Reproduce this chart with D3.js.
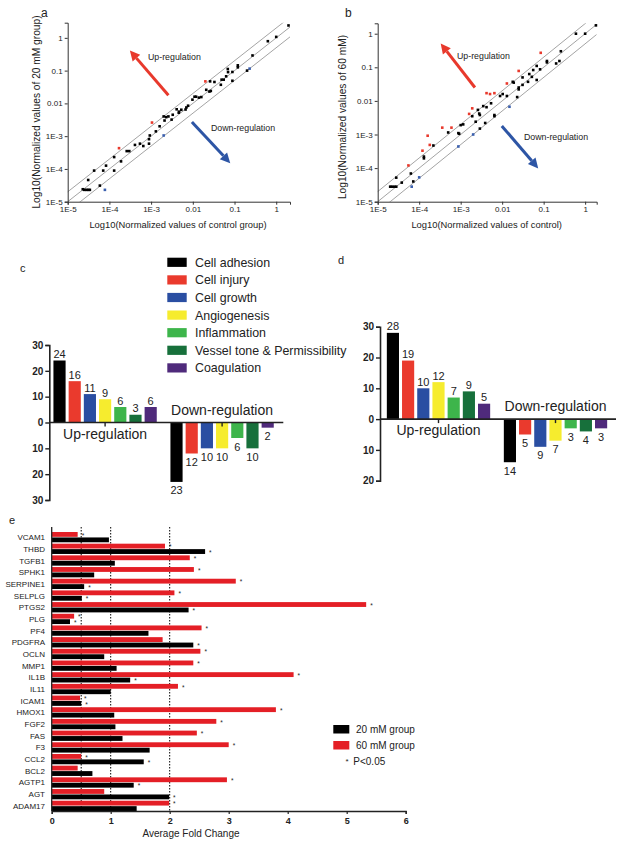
<!DOCTYPE html>
<html><head><meta charset="utf-8">
<script src="https://cdn.jsdelivr.net/npm/d3@7"></script>
<style>body{margin:0;background:#fff}svg{display:block;font-family:"Liberation Sans",Arial,sans-serif}</style>
</head><body><script>
// ---------- DATA ----------
const logTicks = [1e-5, 1e-4, 1e-3, 0.01, 0.1, 1];
const logTickLabels = ["1E-5", "1E-4", "1E-3", "0.01", "0.1", "1"];
const foldLines = [2, 1, 0.5];

// panel a: control vs 20 mM (reg: 0 none, 1 up, 2 down)
const aCtrl = [1.97,0.63,1.0,0.27,0.23,0.2,0.12,0.12,0.089,0.089,0.069,0.07,0.063,0.055,0.049,0.047,0.033,0.026,0.020,0.021,0.025,0.027,0.016,0.014,0.012,0.011,0.0098,0.0077,0.0070,0.0067,0.0053,0.0046,0.0041,0.0047,0.0033,0.0031,0.0026,0.0023,0.002,0.0021,0.0020,0.0016,0.0013,0.00105,0.00093,0.00089,0.00089,0.00065,0.00054,0.00041,0.0003,0.00026,0.00017,0.00019,0.00013,0.00013,0.000083,0.000071,0.000078,0.000059,0.000043,0.000031,0.000023,0.000025,0.000028,0.000031,0.000034];
const aTreat = [2.39,0.79,1.07,0.29,0.115,0.1,0.145,0.126,0.049,0.091,0.112,0.09,0.067,0.053,0.053,0.037,0.045,0.047,0.047,0.026,0.023,0.024,0.0156,0.015,0.016,0.016,0.013,0.0085,0.0075,0.0065,0.0064,0.0052,0.0066,0.0056,0.0045,0.0032,0.0040,0.0038,0.004,0.003,0.00105,0.0020,0.0014,0.0026,0.00105,0.00081,0.00059,0.0005,0.00059,0.00054,0.00035,0.00035,0.00043,0.00017,0.00023,0.000089,0.000126,0.000089,0.000023,0.000031,0.000089,0.000046,0.000024,0.000023,0.000023,0.000023,0.000023];
const aReg = [0,0,0,0,2,0,0,0,0,0,0,0,0,0,0,0,0,0,1,0,0,0,0,0,0,0,0,0,0,0,0,0,0,0,0,0,0,0,0,0,2,0,0,1,0,0,0,0,0,0,0,0,1,0,0,0,0,0,2,0,0,0,0,0,0,0,0];

// panel b: control vs 60 mM
const bCtrl = [1.82,1,0.6,0.26,0.24,0.2,0.12,0.12,0.082,0.085,0.068,0.068,0.056,0.052,0.045,0.042,0.031,0.031,0.025,0.025,0.025,0.023,0.019,0.018,0.015,0.013,0.013,0.0103,0.0089,0.0065,0.0051,0.0042,0.0065,0.0065,0.0054,0.0042,0.0035,0.0039,0.0029,0.0029,0.0028,0.0026,0.0019,0.0019,0.0016,0.0023,0.002,0.00115,0.001,0.00088,0.00092,0.00088,0.0006,0.0005,0.00036,0.00016,0.00018,0.00022,0.00012,0.00013,0.00013,0.0001,0.000055,0.000063,0.000072,0.000066,0.000038,0.000028,0.00002,0.000022,0.000025,0.000028];
const bTreat = [1.77,1,1.0,0.30,0.154,0.13,0.154,0.14,0.087,0.27,0.11,0.042,0.083,0.052,0.063,0.037,0.05,0.03,0.078,0.025,0.022,0.013,0.035,0.037,0.0067,0.033,0.014,0.016,0.014,0.017,0.016,0.017,0.0038,0.0035,0.0085,0.0065,0.007,0.0022,0.0015,0.0038,0.0042,0.0054,0.006,0.0035,0.0041,0.0024,0.001,0.002,0.0019,0.0011,0.00105,0.00044,0.0016,0.00115,0.0016,0.00092,0.00049,0.00047,0.00033,0.00022,0.000195,0.000053,0.00012,0.000069,0.00004,0.000028,0.000037,0.000052,0.000028,0.000028,0.000028,0.000028];
const bReg = [0,0,0,0,0,0,0,0,0,1,0,0,0,0,0,0,0,0,1,0,0,0,0,0,2,1,0,0,0,1,1,1,0,0,0,0,0,0,0,0,0,0,1,0,1,0,2,0,0,0,0,2,1,0,1,1,1,0,1,0,0,2,1,0,0,2,0,0,0,0,0,0];

// arrows (tail -> head, data coordinates)
const aArrowUp = [[0.0026, 0.0178], [0.00031, 0.41]];
const aArrowDown = [[0.0095, 0.0027], [0.079, 0.00015]];
const bArrowUp = [[0.0022, 0.025], [0.00033, 0.51]];
const bArrowDown = [[0.0098, 0.0018], [0.074, 0.000098]];

// panels c and d
const categories = ["Cell adhesion", "Cell injury", "Cell growth", "Angiogenesis", "Inflammation", "Vessel tone & Permissibility", "Coagulation"];
const catColors = ["#000000", "#ea3a2d", "#2a4ea2", "#f6ec2e", "#3db54b", "#17703b", "#4f2a7b"];
const groups = ["Up-regulation", "Down-regulation"];
const cUp = [24, 16, 11, 9, 6, 3, 6];
const cDown = [23, 12, 10, 10, 6, 10, 2];
const dUp = [28, 19, 10, 12, 7, 9, 5];
const dDown = [14, 5, 9, 7, 3, 4, 3];
const cTicks = [30, 20, 10, 0, -10, -20, -30];
const dTicks = [30, 20, 10, 0, -10, -20];

// panel e
const genes = ["VCAM1","THBD","TGFB1","SPHK1","SERPINE1","SELPLG","PTGS2","PLG","PF4","PDGFRA","OCLN","MMP1","IL1B","IL11","ICAM1","HMOX1","FGF2","FAS","F3","CCL2","BCL2","AGTP1","AGT","ADAM17"];
const fc60 = [0.44,1.92,2.34,2.41,3.12,2.08,5.33,0.38,2.54,1.88,2.52,2.40,4.10,2.14,0.48,3.80,2.79,2.46,3.00,0.50,0.44,2.97,0.89,1.99];
const fc20 = [0.97,2.60,1.07,0.72,0.55,0.51,2.32,0.31,1.64,2.40,0.89,1.10,1.33,1.00,0.50,1.06,1.08,1.20,1.66,1.56,0.69,1.39,1.99,1.44];
const sig60 = [1,1,1,1,1,1,1,1,1,0,1,1,1,1,1,1,1,1,1,1,0,1,0,1];
const sig20 = [0,1,0,0,1,1,1,1,0,1,0,0,1,0,1,0,0,0,0,1,0,1,1,0];
const eTicks = [0, 1, 2, 3, 4, 5, 6];
const refLines = [0.5, 1, 2];
const eSeries = ["20 mM group", "60 mM group"];
const eColors = ["#000000", "#e41f26"];

// ---------- DRAW ----------
const svg = d3.select("body").append("svg").attr("width", 624).attr("height", 849);
const upColor = "#e8392c", downColor = "#2d55a5";

function arrow(g, x, y, pts, color) {
  const [x1, y1] = [x(pts[0][0]), y(pts[0][1])];
  const [x2, y2] = [x(pts[1][0]), y(pts[1][1])];
  const ang = Math.atan2(y2 - y1, x2 - x1);
  const hl = 10, hw = 5;
  const bx = x2 - hl * Math.cos(ang), by = y2 - hl * Math.sin(ang);
  g.append("line").attr("x1", x1).attr("y1", y1).attr("x2", bx).attr("y2", by)
    .attr("stroke", color).attr("stroke-width", 3);
  const px = -Math.sin(ang), py = Math.cos(ang);
  g.append("path").attr("fill", color)
    .attr("d", `M${x2},${y2}L${bx + px * hw},${by + py * hw}L${bx - px * hw},${by - py * hw}Z`);
}

function scatter(o) {
  const g = svg.append("g");
  const x = d3.scaleLog().domain(o.xd).range(o.xr);
  const y = d3.scaleLog().domain(o.yd).range(o.yr);
  const cid = "clip" + o.id;
  svg.append("clipPath").attr("id", cid).append("rect")
    .attr("x", o.xr[0]).attr("y", o.yr[1]).attr("width", o.xr[1] - o.xr[0]).attr("height", o.yr[0] - o.yr[1]);
  const lg = g.append("g").attr("clip-path", `url(#${cid})`);
  foldLines.forEach(f => {
    const x0 = Math.min(o.xd[0], o.xd[0] / f) , x1 = o.xd[1];
    lg.append("line").attr("x1", x(x0)).attr("y1", y(x0 * f)).attr("x2", x(x1)).attr("y2", y(x1 * f))
      .attr("stroke", "#9a9a9a").attr("stroke-width", 0.9);
  });
  const colors = ["#000", "#e8392c", "#3a5fae"];
  o.cx.forEach((v, i) => {
    g.append("rect").attr("x", x(v) - 1.3).attr("y", y(o.cy[i]) - 1.3).attr("width", 2.6).attr("height", 2.6)
      .attr("fill", colors[o.reg[i]]);
  });
  const ax = g.append("g").attr("transform", `translate(0,${o.yr[0]})`)
    .call(d3.axisBottom(x).tickValues(logTicks).tickFormat((d, i) => logTickLabels[i]).tickSize(3).tickPadding(2));
  const ay = g.append("g").attr("transform", `translate(${o.xr[0]},0)`)
    .call(d3.axisLeft(y).tickValues(logTicks).tickFormat((d, i) => logTickLabels[i]).tickSize(3).tickPadding(2));
  [ax, ay].forEach(a => {
    a.selectAll("text").attr("font-size", 8).attr("fill", "#222").attr("font-family", "Liberation Sans, Arial");
    a.select(".domain").attr("stroke", "#333");
    a.selectAll(".tick line").attr("stroke", "#333");
  });
  g.append("text").attr("x", o.xtx).attr("y", 228).attr("text-anchor", "middle").attr("font-size", 9.4).attr("fill", "#222").text(o.xt);
  g.append("text").attr("transform", `translate(${o.ytx},${o.yty}) rotate(-90)`).attr("text-anchor", "middle")
    .attr("font-size", 10.2).attr("fill", "#222").text(o.yt);
  g.append("text").attr("x", o.lx).attr("y", 17).attr("font-size", 12).attr("fill", "#222").text(o.label);
  arrow(g, x, y, o.up, upColor);
  arrow(g, x, y, o.down, downColor);
  g.append("text").attr("x", o.upT[0]).attr("y", o.upT[1]).attr("font-size", 8.8).attr("fill", "#222").text("Up-regulation");
  g.append("text").attr("x", o.dnT[0]).attr("y", o.dnT[1]).attr("font-size", 8.8).attr("fill", "#222").text("Down-regulation");
}

scatter({id: "a", xd: [1e-5, 2.14], xr: [67.7, 290], yd: [1e-5, 2.9], yr: [201.7, 22.7],
  cx: aCtrl, cy: aTreat, reg: aReg, xt: "Log10(Normalized values of control group)", xtx: 178,
  yt: "Log10(Normalized values of 20 mM group)", ytx: 40, yty: 112, label: "a", lx: 41,
  up: aArrowUp, down: aArrowDown, upT: [148, 60], dnT: [211, 131]});
scatter({id: "b", xd: [1e-5, 1.9], xr: [377.7, 596.7], yd: [1e-5, 2.04], yr: [201.7, 23.3],
  cx: bCtrl, cy: bTreat, reg: bReg, xt: "Log10(Normalized values of control)", xtx: 486.7,
  yt: "Log10(Normalized values of 60 mM)", ytx: 346, yty: 117, label: "b", lx: 345,
  up: bArrowUp, down: bArrowDown, upT: [457, 59], dnT: [524, 140]});

function barPanel(o) {
  const g = svg.append("g");
  const y = d3.scaleLinear().domain(o.yd).range(o.yr);
  const x0 = d3.scaleBand().domain(groups).range([o.ax + o.off, o.ax + o.off + 234]);
  const x1 = d3.scaleBand().domain(categories).range([0, x0.bandwidth()]).paddingInner(0.2).paddingOuter(0.45);
  const z = y(0);
  const sets = [[groups[0], o.up, 1], [groups[1], o.down, -1]];
  sets.forEach(([grp, vals, s]) => {
    vals.forEach((v, i) => {
      const bx = x0(grp) + x1(categories[i]);
      const yv = y(s * v);
      g.append("rect").attr("x", bx).attr("width", x1.bandwidth())
        .attr("y", Math.min(z, yv)).attr("height", Math.abs(yv - z)).attr("fill", catColors[i]);
      g.append("text").attr("x", bx + x1.bandwidth() / 2).attr("y", s > 0 ? yv - 2.5 : yv + 12.5)
        .attr("text-anchor", "middle").attr("font-size", 11).attr("fill", "#222").text(v);
    });
  });
  // x axis line and group ticks
  g.append("line").attr("x1", o.ax).attr("x2", o.ax + o.axLen).attr("y1", z).attr("y2", z).attr("stroke", "#222").attr("stroke-width", 1.6);
  groups.forEach(grp => {
    const cx = x0(grp) + x0.bandwidth() / 2;
    g.append("line").attr("x1", cx).attr("x2", cx).attr("y1", z).attr("y2", z + 4).attr("stroke", "#222").attr("stroke-width", 1.4);
  });
  const ay = g.append("g").attr("transform", `translate(${o.ax},0)`)
    .call(d3.axisLeft(y).tickValues(o.ticks).tickFormat(d => Math.abs(d)).tickSize(4).tickPadding(2));
  ay.select(".domain").attr("stroke", "#222").attr("stroke-width", 1.6);
  ay.selectAll(".tick line").attr("stroke", "#222").attr("stroke-width", 1.4);
  ay.selectAll("text").attr("font-size", 10).attr("font-weight", "bold").attr("fill", "#222").attr("font-family", "Liberation Sans, Arial");
  g.append("text").attr("x", x0(groups[0]) + x0.bandwidth() / 2).attr("y", z + 16).attr("text-anchor", "middle")
    .attr("font-size", 14).attr("fill", "#222").text(groups[0]);
  g.append("text").attr("x", x0(groups[1]) + x0.bandwidth() / 2).attr("y", z - 8).attr("text-anchor", "middle")
    .attr("font-size", 14).attr("fill", "#222").text(groups[1]);
  g.append("text").attr("x", o.lab[0]).attr("y", o.lab[1]).attr("font-size", 11).attr("fill", "#222").text(o.label);
}

barPanel({ax: 49.3, off: -2.7, axLen: 234, yd: [-30, 30], yr: [500, 345], up: cUp, down: cDown, ticks: cTicks, label: "c", lab: [20, 272]});
barPanel({ax: 380, off: 0, axLen: 236, yd: [-20, 30], yr: [480.7, 326.7], up: dUp, down: dDown, ticks: dTicks, label: "d", lab: [338, 264]});

// legend for c/d
const leg = svg.append("g");
categories.forEach((c, i) => {
  const yy = 257.7 + i * 17.6;
  leg.append("rect").attr("x", 167.3).attr("y", yy).attr("width", 19.4).attr("height", 9.2).attr("fill", catColors[i]);
  leg.append("text").attr("x", 195).attr("y", yy + 9).attr("font-size", 12.4).attr("fill", "#222").text(c);
});

// panel e
(function () {
  const g = svg.append("g");
  const x = d3.scaleLinear().domain([0, 6]).range([51.7, 405.7]);
  const y = d3.scaleBand().domain(genes).range([532, 811]).paddingInner(0.12);
  const bh = y.bandwidth() / 2 - 0.3;
  refLines.forEach(v => {
    g.append("line").attr("x1", x(v)).attr("x2", x(v)).attr("y1", 527).attr("y2", 811)
      .attr("stroke", "#000").attr("stroke-width", 1).attr("stroke-dasharray", "1.5,1.5");
  });
  genes.forEach((gn, i) => {
    const y60 = y(gn), y20 = y(gn) + y.bandwidth() - bh;
    g.append("rect").attr("x", x(0)).attr("y", y60).attr("width", x(fc60[i]) - x(0)).attr("height", bh).attr("fill", eColors[1]);
    g.append("rect").attr("x", x(0)).attr("y", y20).attr("width", x(fc20[i]) - x(0)).attr("height", bh).attr("fill", eColors[0]);
    if (sig60[i]) g.append("text").attr("x", x(fc60[i]) + 4).attr("y", y60 + bh / 2 + 3.2).attr("font-size", 6.5).attr("fill", "#222").text("*");
    if (sig20[i]) g.append("text").attr("x", x(fc20[i]) + 4).attr("y", y20 + bh / 2 + 3.2).attr("font-size", 6.5).attr("fill", "#222").text("*");
    g.append("text").attr("x", 45).attr("y", y(gn) + y.bandwidth() / 2 + 3).attr("text-anchor", "end")
      .attr("font-size", 8).attr("fill", "#222").text(gn);
  });
  g.append("line").attr("x1", x(0)).attr("x2", x(0)).attr("y1", 527).attr("y2", 811).attr("stroke", "#222").attr("stroke-width", 1.3);
  const ax = g.append("g").attr("transform", "translate(0,811)")
    .call(d3.axisBottom(x).tickValues(eTicks).tickFormat(d3.format("d")).tickSize(3).tickPadding(4));
  ax.select(".domain").attr("stroke", "#222").attr("stroke-width", 1.3);
  ax.selectAll(".tick line").attr("stroke", "#222").attr("stroke-width", 1.2);
  ax.selectAll("text").attr("font-size", 9).attr("font-weight", "bold").attr("fill", "#222").attr("font-family", "Liberation Sans, Arial");
  g.append("text").attr("x", 191).attr("y", 837).attr("text-anchor", "middle").attr("font-size", 10).attr("fill", "#222").text("Average Fold Change");
  g.append("text").attr("x", 9).attr("y", 524).attr("font-size", 11).attr("fill", "#222").text("e");
  eSeries.forEach((s, i) => {
    g.append("rect").attr("x", 333.3).attr("y", 725 + i * 16).attr("width", 16).attr("height", 8.5).attr("fill", eColors[i]);
    g.append("text").attr("x", 356).attr("y", 733 + i * 16).attr("font-size", 10).attr("fill", "#222").text(s);
  });
  g.append("text").attr("x", 345.5).attr("y", 764).attr("font-size", 8).attr("fill", "#222").text("*");
  g.append("text").attr("x", 353.3).attr("y", 764.5).attr("font-size", 10).attr("fill", "#222").text("P<0.05");
})();
</script></body></html>
